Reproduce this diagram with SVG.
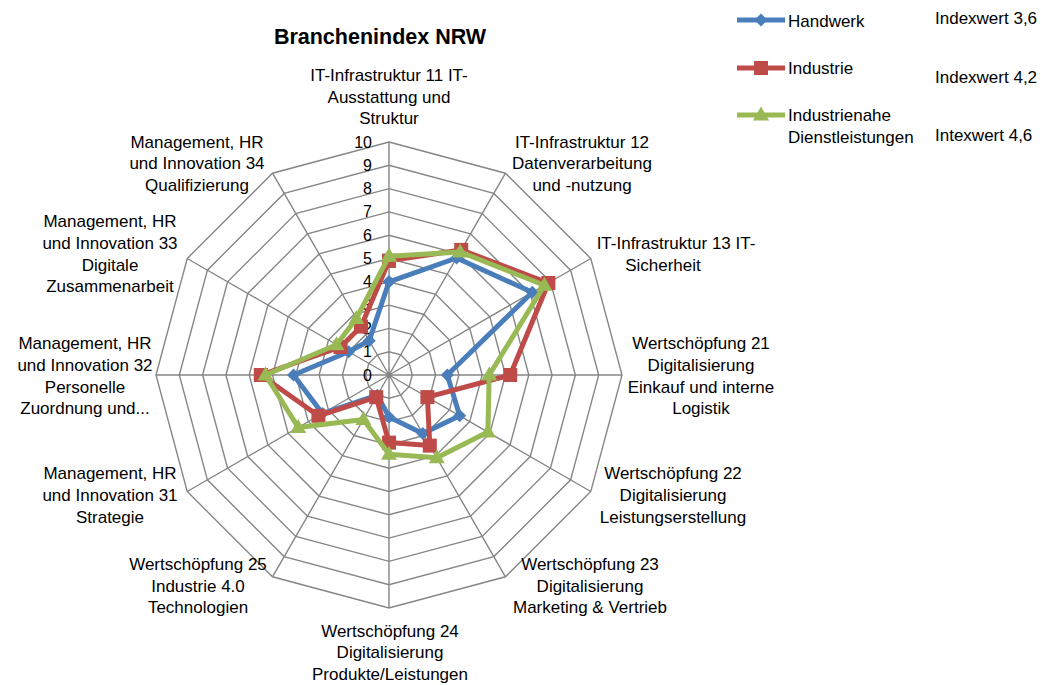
<svg xmlns="http://www.w3.org/2000/svg" width="1041" height="685" viewBox="0 0 1041 685">
<style>
text{font-family:"Liberation Sans",Arial,sans-serif;font-size:17px;fill:#000}
.lbl{text-anchor:middle}
.tick{font-size:16px;text-anchor:end}
.title{font-size:21.5px;font-weight:bold;text-anchor:middle}
.ring{fill:none;stroke:#868686;stroke-width:1.4}
.spoke{fill:none;stroke:#868686;stroke-width:1.4}
.s{fill:none;stroke-width:5;stroke-linejoin:round}
.blue{stroke:#4A7EBB;marker-start:url(#mD);marker-mid:url(#mD);marker-end:url(#mD)}
.red{stroke:#BE4B48;marker-start:url(#mS);marker-mid:url(#mS);marker-end:url(#mS)}
.green{stroke:#98B954;marker-start:url(#mT);marker-mid:url(#mT);marker-end:url(#mT)}
.lg{fill:none;stroke-width:5}
.lgb{stroke:#4A7EBB;marker-mid:url(#mD)}
.lgr{stroke:#BE4B48;marker-mid:url(#mS)}
.lgg{stroke:#98B954;marker-mid:url(#mT)}
</style>
<defs>
<marker id="mD" markerUnits="userSpaceOnUse" markerWidth="14" markerHeight="14" refX="7" refY="7" orient="0" overflow="visible"><path d="M7,0.5 L13.5,7 L7,13.5 L0.5,7 Z" fill="#4A7EBB"/></marker>
<marker id="mS" markerUnits="userSpaceOnUse" markerWidth="14" markerHeight="14" refX="7" refY="7" orient="0" overflow="visible"><rect x="0" y="0" width="14" height="14" fill="#BE4B48"/></marker>
<marker id="mT" markerUnits="userSpaceOnUse" markerWidth="16" markerHeight="14" refX="8" refY="8.5" orient="0" overflow="visible"><path d="M8,0 L16,14 L0,14 Z" fill="#98B954"/></marker>
</defs>
<rect width="1041" height="685" fill="#fff"/>
<text class="title" x="380" y="44">Branchenindex NRW</text>
<g id="grid" transform="translate(389,375)">
<polygon class="ring" points="0,-23.3 11.65,-20.18 20.18,-11.65 23.3,0 20.18,11.65 11.65,20.18 0,23.3 -11.65,20.18 -20.18,11.65 -23.3,0 -20.18,-11.65 -11.65,-20.18"/>
<polygon class="ring" points="0,-46.6 23.3,-40.36 40.36,-23.3 46.6,0 40.36,23.3 23.3,40.36 0,46.6 -23.3,40.36 -40.36,23.3 -46.6,0 -40.36,-23.3 -23.3,-40.36"/>
<polygon class="ring" points="0,-69.9 34.95,-60.53 60.53,-34.95 69.9,0 60.53,34.95 34.95,60.53 0,69.9 -34.95,60.53 -60.53,34.95 -69.9,0 -60.53,-34.95 -34.95,-60.53"/>
<polygon class="ring" points="0,-93.2 46.6,-80.71 80.71,-46.6 93.2,0 80.71,46.6 46.6,80.71 0,93.2 -46.6,80.71 -80.71,46.6 -93.2,0 -80.71,-46.6 -46.6,-80.71"/>
<polygon class="ring" points="0,-116.5 58.25,-100.89 100.89,-58.25 116.5,0 100.89,58.25 58.25,100.89 0,116.5 -58.25,100.89 -100.89,58.25 -116.5,0 -100.89,-58.25 -58.25,-100.89"/>
<polygon class="ring" points="0,-139.8 69.9,-121.07 121.07,-69.9 139.8,0 121.07,69.9 69.9,121.07 0,139.8 -69.9,121.07 -121.07,69.9 -139.8,0 -121.07,-69.9 -69.9,-121.07"/>
<polygon class="ring" points="0,-163.1 81.55,-141.24 141.24,-81.55 163.1,0 141.24,81.55 81.55,141.24 0,163.1 -81.55,141.24 -141.24,81.55 -163.1,0 -141.24,-81.55 -81.55,-141.24"/>
<polygon class="ring" points="0,-186.4 93.2,-161.42 161.42,-93.2 186.4,0 161.42,93.2 93.2,161.42 0,186.4 -93.2,161.42 -161.42,93.2 -186.4,0 -161.42,-93.2 -93.2,-161.42"/>
<polygon class="ring" points="0,-209.7 104.85,-181.6 181.6,-104.85 209.7,0 181.6,104.85 104.85,181.6 0,209.7 -104.85,181.6 -181.6,104.85 -209.7,0 -181.6,-104.85 -104.85,-181.6"/>
<polygon class="ring" points="0,-233 116.5,-201.78 201.78,-116.5 233,0 201.78,116.5 116.5,201.78 0,233 -116.5,201.78 -201.78,116.5 -233,0 -201.78,-116.5 -116.5,-201.78"/>
<path class="spoke" d="M0,0L0,-233M0,0L116.5,-201.78M0,0L201.78,-116.5M0,0L233,0M0,0L201.78,116.5M0,0L116.5,201.78M0,0L0,233M0,0L-116.5,201.78M0,0L-201.78,116.5M0,0L-233,0M0,0L-201.78,-116.5M0,0L-116.5,-201.78"/>
<g id="ticks">
<text class="tick" x="-17" y="5.5">0</text>
<text class="tick" x="-17" y="-17.8">1</text>
<text class="tick" x="-17" y="-41.1">2</text>
<text class="tick" x="-17" y="-64.4">3</text>
<text class="tick" x="-17" y="-87.7">4</text>
<text class="tick" x="-17" y="-111">5</text>
<text class="tick" x="-17" y="-134.3">6</text>
<text class="tick" x="-17" y="-157.6">7</text>
<text class="tick" x="-17" y="-180.9">8</text>
<text class="tick" x="-17" y="-204.2">9</text>
<text class="tick" x="-17" y="-227.5">10</text>
</g>
</g>
<g id="series">
<polygon id="handwerk" class="s blue" points="389,281.8 456.6,258 532.3,292.3 447.3,375 459.7,415.8 422.8,433.5 389,416.9 377.3,395.2 322.4,413.5 293.5,375 348.6,351.7 369.2,340.7"/>
<polygon id="industrie" class="s red" points="389,260.8 461.2,249.9 548.4,283 510.2,375 427.4,397.1 429.8,445.6 389,442.6 376.2,397.2 318.4,415.8 260.8,375 340.6,347 361,326.6"/>
<polygon id="dienstleistungen" class="s green" points="389,256.2 460.1,251.9 544.4,285.3 489.2,375 487.9,432.1 436.8,457.7 389,454.2 363.4,419.4 298.2,427.4 265.5,375 336.5,344.7 356.4,318.5"/>
</g>
<g id="axis-labels">
<g id="ax0"><text class="lbl" x="389" y="81">IT-Infrastruktur 11 IT-</text><text class="lbl" x="389" y="103">Ausstattung und</text><text class="lbl" x="389" y="124">Struktur</text></g>
<g id="ax1"><text class="lbl" x="582" y="148">IT-Infrastruktur 12</text><text class="lbl" x="582" y="169">Datenverarbeitung</text><text class="lbl" x="582" y="191">und -nutzung</text></g>
<g id="ax2"><text class="lbl" x="676" y="249">IT-Infrastruktur 13 IT-</text><text class="lbl" x="663" y="271">Sicherheit</text></g>
<g id="ax3"><text class="lbl" x="701" y="349">Wertschöpfung 21</text><text class="lbl" x="701" y="371">Digitalisierung</text><text class="lbl" x="701" y="393">Einkauf und interne</text><text class="lbl" x="701" y="414">Logistik</text></g>
<g id="ax4"><text class="lbl" x="673" y="479">Wertschöpfung 22</text><text class="lbl" x="673" y="501">Digitalisierung</text><text class="lbl" x="673" y="523">Leistungserstellung</text></g>
<g id="ax5"><text class="lbl" x="590" y="570">Wertschöpfung 23</text><text class="lbl" x="590" y="592">Digitalisierung</text><text class="lbl" x="590" y="613">Marketing &amp; Vertrieb</text></g>
<g id="ax6"><text class="lbl" x="390" y="637">Wertschöpfung 24</text><text class="lbl" x="390" y="658">Digitalisierung</text><text class="lbl" x="390" y="680">Produkte/Leistungen</text></g>
<g id="ax7"><text class="lbl" x="198" y="570">Wertschöpfung 25</text><text class="lbl" x="198" y="592">Industrie 4.0</text><text class="lbl" x="198" y="613">Technologien</text></g>
<g id="ax8"><text class="lbl" x="110" y="479">Management, HR</text><text class="lbl" x="110" y="501">und Innovation 31</text><text class="lbl" x="110" y="523">Strategie</text></g>
<g id="ax9"><text class="lbl" x="85" y="349">Management, HR</text><text class="lbl" x="85" y="371">und Innovation 32</text><text class="lbl" x="85" y="393">Personelle</text><text class="lbl" x="85" y="414">Zuordnung und...</text></g>
<g id="ax10"><text class="lbl" x="110" y="227">Management, HR</text><text class="lbl" x="110" y="249">und Innovation 33</text><text class="lbl" x="110" y="271">Digitale</text><text class="lbl" x="110" y="292">Zusammenarbeit</text></g>
<g id="ax11"><text class="lbl" x="197" y="148">Management, HR</text><text class="lbl" x="197" y="169">und Innovation 34</text><text class="lbl" x="197" y="191">Qualifizierung</text></g>
</g>
<g id="legend">
<g id="lg-handwerk"><polyline class="lg lgb" points="737,20 761,20 785,20"/><text x="788" y="26.5">Handwerk</text><text x="935" y="24">Indexwert 3,6</text></g>
<g id="lg-industrie"><polyline class="lg lgr" points="737,68 761,68 785,68"/><text x="788" y="74">Industrie</text><text x="935" y="83">Indexwert 4,2</text></g>
<g id="lg-dienst"><polyline class="lg lgg" points="737,115 761,115 785,115"/><text x="788" y="121">Industrienahe</text><text x="788" y="142.5">Dienstleistungen</text><text x="935" y="141">Intexwert 4,6</text></g>
</g>
</svg>
